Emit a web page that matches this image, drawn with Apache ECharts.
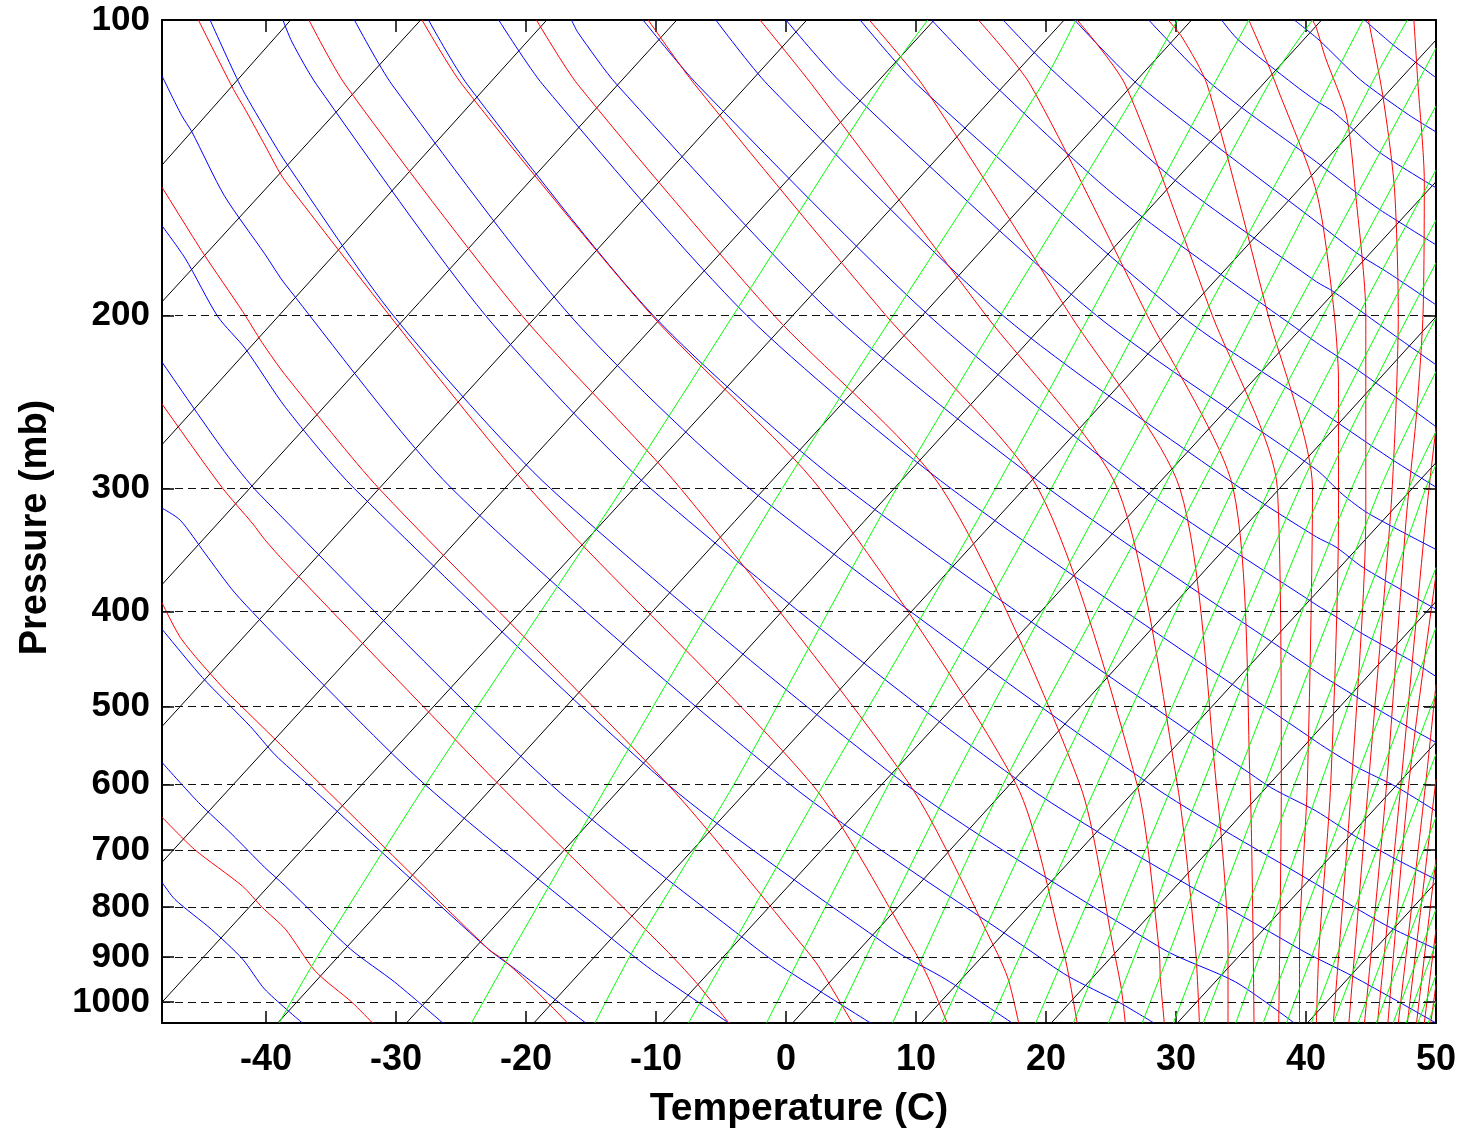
<!DOCTYPE html>
<html>
<head>
<meta charset="utf-8">
<title>Skew-T log-P</title>
<script src="https://cdn.jsdelivr.net/npm/echarts@6/dist/echarts.min.js"></script>
<style>
  html, body { margin: 0; padding: 0; background: #fff; overflow: hidden; }
  #viz-skewt { width: 1464px; height: 1131px; }
</style>
</head>
<body>
<div id="viz-skewt"></div>
<script>
// axis ticks
const tempTicks = [-40, -30, -20, -10, 0, 10, 20, 30, 40, 50];
const pressTicks = [100, 200, 300, 400, 500, 600, 700, 800, 900, 1000];
const pressLines = [200, 300, 400, 500, 600, 700, 800, 900, 1000];

// every line is a list of [temperature (C), pressure (mb)] points

// black: isotherms
const isotherms = [
  [[-48, 140.5], [-38.1, 100]],
  [[-48, 193.6], [-28.1, 100]],
  [[-48, 270.6], [-18.4, 100]],
  [[-48, 375.7], [-8.4, 100]],
  [[-48, 523.9], [1.6, 100]],
  [[-48, 720.4], [11.4, 100]],
  [[-48, 1000], [21.4, 100]],
  [[-39.1, 1050], [31.2, 100]],
  [[-29.2, 1050], [41.2, 100]],
  [[-19.4, 1050], [50, 104.8]],
  [[-9.5, 1050], [50, 146.1]],
  [[0.5, 1050], [50, 200.5]],
  [[10.4, 1050], [50, 282.3]],
  [[20.4, 1050], [50, 390.9]],
  [[30.1, 1050], [50, 543.9]],
  [[40.1, 1050], [50, 754.9]]
];

// blue: dry adiabats
const dryAdiabats = [
  [[-48, 755], [-47.0, 786], [-44.2, 843], [-41.8, 904], [-40.1, 970], [-37.2, 1050]],
  [[-48, 570], [-45.2, 626], [-42.6, 675], [-40.1, 729], [-38.5, 762], [-33.5, 883], [-30.1, 954], [-26.4, 1050]],
  [[-48, 417], [-44.9, 467], [-41.2, 524], [-39.3, 560], [-36.8, 600], [-22.9, 883], [-20.8, 926], [-18.5, 977], [-15.4, 1050]],
  [[-48, 314], [-46.6, 323], [-44.7, 349], [-42.4, 383], [-38.5, 434], [-27.8, 600], [-12.4, 883], [-10.1, 932], [-4.4, 1050]],
  [[-48, 223], [-43.2, 275], [-40.5, 304], [-18.1, 600], [-2.2, 883], [0.2, 930], [6.5, 1050]],
  [[-48, 162], [-46.2, 175], [-43.7, 200.5], [-41.6, 216], [-38.5, 248], [-33.2, 300], [-9.1, 600], [8.2, 883], [12.3, 948], [17.4, 1050]],
  [[-48, 114], [-46.5, 125], [-45.7, 130], [-43.2, 151], [-40.1, 173], [-38.5, 186], [-25.7, 300], [0.3, 600], [18.6, 883], [21.7, 941], [25.6, 1000], [28.3, 1050]],
  [[-44.3, 100], [-42.0, 116.4], [-40.1, 128.8], [-38.5, 139.5], [-30.2, 200], [-18.1, 300], [9.2, 600], [29.0, 883], [34.6, 954], [39.1, 1050]],
  [[-38.7, 100], [-38.0, 105.3], [-36.1, 116.4], [-23.1, 200], [-10.4, 300], [18.3, 600], [39.5, 883], [43.6, 941], [50, 1050]],
  [[-33.2, 100], [-30.3, 116.4], [-16.6, 200], [-2.8, 300], [28.0, 600], [40.8, 758.5], [43.6, 798.6], [46.3, 837], [50, 883]],
  [[-27.5, 100], [-24.5, 116.4], [-10.2, 200], [4.7, 300], [36.9, 600], [40.8, 639], [43.8, 678], [46.9, 715], [50, 750]],
  [[-22.1, 100], [-18.7, 116.4], [-3.0, 200], [12.7, 300], [40.8, 543], [44.0, 577], [46.9, 603], [50, 639]],
  [[-16.5, 100], [-16.0, 103], [-13.0, 116.4], [3.7, 200], [20.2, 300], [40.8, 461], [43.8, 488], [47.9, 525], [50, 544]],
  [[-11.0, 100], [-6.8, 116.4], [11.0, 200], [27.4, 300], [40.8, 394], [42.3, 405], [44.4, 422], [48.2, 450], [50, 466]],
  [[-5.4, 100], [-1.4, 116.4], [16.7, 200], [35.0, 300], [40.8, 336], [42.3, 344], [44.4, 361], [50, 398]],
  [[0.0, 100], [4.4, 116.4], [23.9, 200], [40.8, 287], [42.8, 304], [44.8, 318], [50, 346]],
  [[5.7, 100], [10.1, 116.4], [30.4, 200], [40.8, 248], [41.5, 252], [46.4, 279], [50, 299]],
  [[11.2, 100], [16.0, 116.4], [25.7, 152.4], [40.8, 213], [43.1, 223], [46.7, 241], [50, 259.5]],
  [[16.7, 100], [19.2, 108.3], [21.7, 116.4], [29.9, 145.5], [40.8, 184.7], [42.1, 189], [46.7, 209], [50, 224.4]],
  [[22.2, 100], [27.1, 116.4], [40.8, 160.5], [44.1, 173.4], [46.2, 180.4], [50, 195]],
  [[27.9, 100], [32.8, 116.4], [40.8, 139.5], [44.1, 150.7], [45.9, 156.7], [50, 169.4]],
  [[33.5, 100], [34.8, 104.8], [39.1, 116.4], [40.8, 120.9], [42.1, 124], [45.6, 136.2], [50, 148.2]],
  [[39.1, 100], [41.0, 104.8], [44.2, 115.1], [47.9, 124.9], [50, 130]],
  [[44.5, 100], [46.7, 106], [50, 114.5]]
];

// red: moist adiabats
const moistAdiabats = [
  [[-48, 648], [-45.5, 699], [-41.8, 762], [-40.3, 800.5], [-38.5, 843], [-36.2, 930], [-33.4, 1000], [-31.8, 1050]],
  [[-48, 392], [-46.5, 427], [-43.4, 477], [-40.3, 524], [-38.5, 553], [-35.8, 600], [-22.9, 883], [-21.8, 904], [-20.1, 948], [-16.8, 1050]],
  [[-48, 246], [-43.4, 299], [-41.0, 326], [-40.1, 338], [-38.5, 357], [-22.1, 600], [-9.3, 883], [-7.0, 952], [-4.4, 1050]],
  [[-48, 148], [-44.8, 173], [-41.8, 198], [-40.3, 213], [-38.5, 230], [-31.3, 300], [-9.1, 600], [1.5, 883], [2.5, 919], [5.1, 1050]],
  [[-45.2, 100], [-42.6, 117], [-41.5, 124], [-40.1, 134], [-38.5, 146], [-19.7, 300], [2.0, 600], [9.8, 883], [11.0, 948], [12.4, 1050]],
  [[-36.7, 100], [-33.9, 116.4], [-20.3, 200], [-8.1, 300], [9.5, 600], [16.1, 883], [17.1, 948], [17.9, 1050]],
  [[-28.0, 100], [-24.9, 116.4], [-10.3, 200], [2.6, 300], [17.7, 600], [21.3, 883], [21.7, 932], [22.4, 1050]],
  [[-19.2, 100], [-16.0, 116.4], [-0.9, 200], [12.0, 300], [22.6, 600], [25.2, 883], [25.8, 970], [26.1, 1050]],
  [[-10.6, 100], [-7.0, 116.4], [7.7, 200], [19.4, 300], [27.0, 600], [28.7, 883], [28.8, 948], [29.1, 1050]],
  [[-2.0, 100], [2.0, 116.4], [15.4, 200], [25.5, 300], [30.1, 600], [31.5, 883], [31.8, 1050]],
  [[6.4, 100], [10.5, 116.4], [21.9, 200], [30.3, 300], [33.1, 600], [34.0, 883], [34.0, 1050]],
  [[14.8, 100], [18.8, 116.4], [27.8, 200], [34.4, 300], [35.7, 600], [36.0, 1050]],
  [[22.4, 100], [26.1, 116.4], [32.8, 200], [37.8, 300], [38.1, 600], [37.9, 1050]],
  [[29.4, 100], [30.5, 104.3], [32.4, 116.4], [37.1, 200], [40.5, 300], [40.1, 600], [39.5, 883], [39.5, 1050]],
  [[35.6, 100], [37.1, 111.1], [37.7, 116.4], [40.8, 149.6], [42.1, 195], [42.5, 233], [42.5, 319], [41.9, 600], [41.0, 883], [40.8, 1050]],
  [[40.5, 100], [40.8, 101.9], [41.5, 109.3], [43.1, 124.9], [43.8, 149.6], [44.6, 199.5], [44.6, 319], [43.5, 600], [42.1, 1050]],
  [[44.8, 100], [45.9, 119.2], [46.8, 148.2], [47.1, 199.5], [46.9, 252], [46.5, 319], [44.8, 600], [43.3, 1050]],
  [[48.3, 100], [48.6, 115.6], [49.1, 146], [49.0, 199.5], [48.5, 252], [47.7, 323], [46.2, 600], [44.5, 1050]],
  [[50, 260], [49.2, 323], [47.3, 600], [45.5, 1050]],
  [[50, 367], [47.9, 600], [46.3, 1050]],
  [[50, 475], [49.2, 600], [47.1, 1050]],
  [[50, 593], [47.8, 1050]],
  [[50, 715], [48.5, 1050]],
  [[50, 843], [49.1, 1050]],
  [[50, 959], [49.6, 1050]]
];

// green: mixing ratio lines
const mixingRatios = [
  [[-39.0, 1050], [-35.7, 883], [-27.7, 600], [-12.6, 300], [7.3, 116.4], [10.9, 100]],
  [[-24.2, 1050], [-21.0, 883], [-13.7, 600], [-0.3, 300], [19.7, 116.4], [22.3, 100]],
  [[-14.7, 1050], [-11.7, 883], [-4.0, 600], [8.5, 300], [27.3, 116.4], [30.1, 100]],
  [[-7.5, 1050], [2.9, 600], [16.1, 300], [32.9, 116.4], [35.6, 100]],
  [[-1.5, 1050], [7.9, 600], [20.4, 300], [37.1, 116.4], [40.5, 100]],
  [[3.7, 1050], [12.7, 600], [24.9, 300], [41.8, 116.4], [44.4, 100]],
  [[8.2, 1050], [16.7, 600], [29.0, 300], [45.0, 116.4], [47.8, 100]],
  [[12.0, 1050], [20.5, 600], [31.8, 300], [48.5, 116.4], [50, 106.8]],
  [[15.7, 1050], [34.4, 300], [50, 122.3]],
  [[19.2, 1050], [37.2, 300], [50, 142.1]],
  [[22.1, 1050], [39.5, 300], [50, 159.8]],
  [[24.8, 1050], [41.3, 300], [50, 176.7]],
  [[27.4, 1050], [43.5, 300], [50, 201]],
  [[29.8, 1050], [45.7, 300], [50, 228]],
  [[32.1, 1050], [47.9, 300], [50, 262.5]],
  [[34.6, 1050], [49.2, 300], [50, 283.6]],
  [[36.7, 1050], [50, 361]],
  [[38.5, 1050], [50, 415.5]],
  [[40.4, 1050], [50, 485]],
  [[42.1, 1050], [50, 559]],
  [[44.0, 1050], [50, 648]],
  [[45.4, 1050], [50, 724]],
  [[46.7, 1050], [50, 804]],
  [[47.7, 1050], [50, 871]],
  [[48.6, 1050], [50, 939]],
  [[49.4, 1050], [50, 998]]
];

const fontFamily = '"Liberation Sans", Arial, Helvetica, sans-serif';

function lineSeries(lines, color, smooth) {
  return lines.map(pts => ({
    type: 'line',
    data: pts,
    symbol: 'none',
    silent: true,
    clip: true,
    smooth: smooth,
    lineStyle: { color: color, width: 1 },
    emphasis: { disabled: true }
  }));
}

const frameLine = { show: true, onZero: false, lineStyle: { color: '#000', width: 2 } };

const chart = echarts.init(document.getElementById('viz-skewt'));
const option = {
  animation: false,
  backgroundColor: '#fff',
  grid: { left: 162, right: 28, top: 20, bottom: 108, containLabel: false, outerBoundsMode: 'none' },
  xAxis: [
    {
      type: 'value',
      position: 'bottom',
      min: -48,
      max: 50,
      axisLine: frameLine,
      axisTick: { show: true, inside: true, length: 12, customValues: tempTicks, lineStyle: { color: '#000', width: 1.5 } },
      axisLabel: {
        customValues: tempTicks,
        fontSize: 36,
        fontWeight: 'bold',
        fontFamily: fontFamily,
        color: '#000',
        margin: 19
      },
      splitLine: { show: false },
      name: 'Temperature (C)',
      nameLocation: 'middle',
      nameGap: 67,
      nameTextStyle: { fontSize: 39, fontWeight: 'bold', fontFamily: fontFamily, color: '#000' }
    },
    {
      type: 'value',
      position: 'top',
      min: -48,
      max: 50,
      axisLine: frameLine,
      axisTick: { show: true, inside: true, length: 12, customValues: tempTicks, lineStyle: { color: '#000', width: 1.5 } },
      axisLabel: { show: false },
      splitLine: { show: false }
    }
  ],
  yAxis: [
    {
      type: 'log',
      logBase: 10,
      position: 'left',
      min: 100,
      max: 1050,
      inverse: true,
      axisLine: frameLine,
      axisTick: { show: true, inside: true, length: 12, customValues: pressTicks, lineStyle: { color: '#000', width: 1.5 } },
      axisLabel: {
        customValues: pressTicks,
        formatter: v => String(Math.round(v)),
        fontSize: 35,
        fontWeight: 'bold',
        fontFamily: fontFamily,
        color: '#000',
        margin: 12
      },
      splitLine: { show: false },
      name: 'Pressure (mb)',
      nameLocation: 'middle',
      nameGap: 107,
      nameTextStyle: { fontSize: 38, fontWeight: 'bold', fontFamily: fontFamily, color: '#000', padding: [0, 12, 0, 0] }
    },
    {
      type: 'log',
      logBase: 10,
      position: 'right',
      min: 100,
      max: 1050,
      inverse: true,
      axisLine: frameLine,
      axisTick: { show: true, inside: true, length: 12, customValues: pressTicks, lineStyle: { color: '#000', width: 1.5 } },
      axisLabel: { show: false },
      splitLine: { show: false }
    }
  ],
  series: [
    ...lineSeries(isotherms, '#000000', false),
    ...lineSeries(dryAdiabats, '#0000ff', 0.25),
    ...lineSeries(moistAdiabats, '#ff0000', 0.25),
    ...lineSeries(mixingRatios, '#00ff00', 0.25),
    {
      // dashed pressure levels
      type: 'line',
      data: [[-48, 100]],
      symbol: 'none',
      silent: true,
      lineStyle: { width: 0 },
      markLine: {
        silent: true,
        symbol: ['none', 'none'],
        label: { show: false },
        emphasis: { disabled: true },
        lineStyle: { color: '#111', width: 1, type: [8, 5] },
        data: pressLines.map(p => ({ yAxis: p }))
      }
    }
  ]
};

chart.setOption(option);

window.addEventListener('resize', function() {
  chart.resize();
});
</script>
</body>
</html>
